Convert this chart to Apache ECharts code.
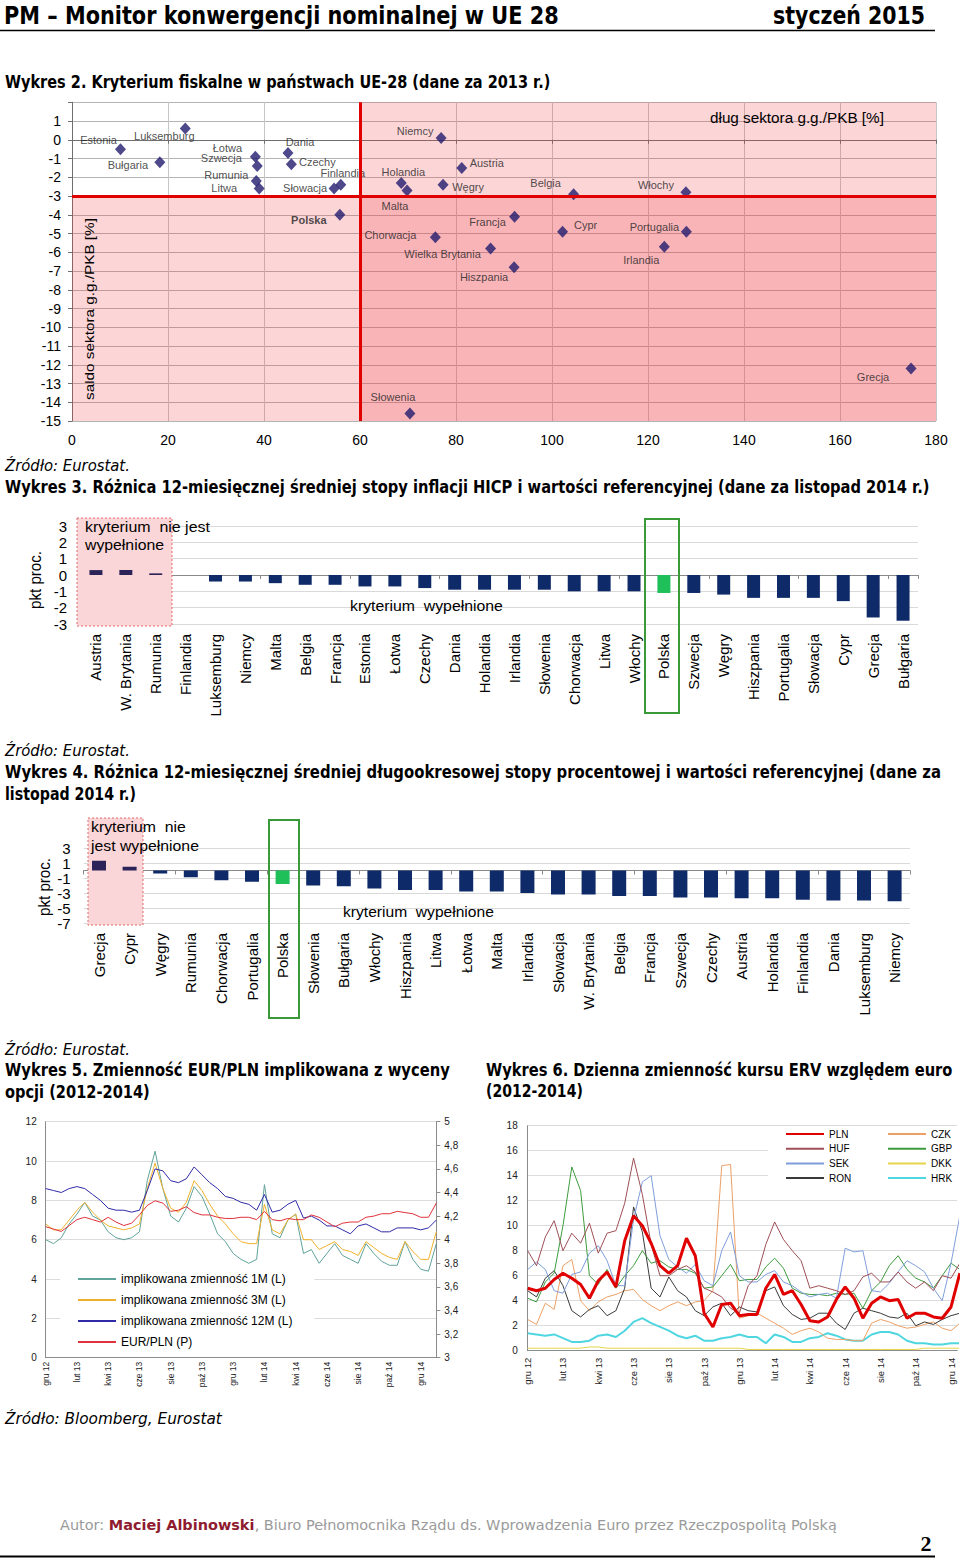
<!DOCTYPE html>
<html><head><meta charset="utf-8">
<script src="https://cdn.jsdelivr.net/npm/echarts@6/dist/echarts.min.js"></script>
<style>html,body{margin:0;padding:0;background:#fff}#c{width:960px;height:1561px}</style>
</head><body><div id="c"></div>
<script>
// ---------------- DATA ----------------
const fiscalCountries = ['Estonia','Luksemburg','Bułgaria','Łotwa','Szwecja','Rumunia','Litwa','Dania','Czechy','Finlandia','Słowacja','Polska','Niemcy','Austria','Holandia','Malta','Węgry','Belgia','Francja','Cypr','Chorwacja','Wielka Brytania','Hiszpania','Włochy','Portugalia','Irlandia','Słowenia','Grecja'];
const fiscalDebt = [10.1,23.6,18.3,38.2,38.6,38.4,39.0,45.0,45.7,56.0,54.6,55.8,76.9,81.2,68.6,69.8,77.3,104.5,92.2,102.2,75.7,87.2,92.1,127.9,128.0,123.4,70.4,174.8];
const fiscalBalance = [-0.5,0.6,-1.2,-0.9,-1.4,-2.2,-2.6,-0.7,-1.3,-2.4,-2.6,-4.0,0.1,-1.5,-2.3,-2.7,-2.4,-2.9,-4.1,-4.9,-5.2,-5.8,-6.8,-2.8,-4.9,-5.7,-14.6,-12.2];

const hicpCountries = ['Austria','W. Brytania','Rumunia','Finlandia','Luksemburg','Niemcy','Malta','Belgia','Francja','Estonia','Łotwa','Czechy','Dania','Holandia','Irlandia','Słowenia','Chorwacja','Litwa','Włochy','Polska','Szwecja','Węgry','Hiszpania','Portugalia','Słowacja','Cypr','Grecja','Bułgaria'];
const hicpValues = [0.3,0.3,0.1,0.0,-0.4,-0.4,-0.5,-0.6,-0.6,-0.7,-0.7,-0.8,-0.9,-0.9,-0.9,-0.9,-1.0,-1.0,-1.0,-1.1,-1.1,-1.2,-1.4,-1.4,-1.4,-1.6,-2.6,-2.8];

const rateCountries = ['Grecja','Cypr','Węgry','Rumunia','Chorwacja','Portugalia','Polska','Słowenia','Bułgaria','Włochy','Hiszpania','Litwa','Łotwa','Malta','Irlandia','Słowacja','W. Brytania','Belgia','Francja','Szwecja','Czechy','Austria','Holandia','Finlandia','Dania','Luksemburg','Niemcy'];
const rateValues = [1.3,0.5,-0.4,-0.9,-1.3,-1.5,-1.8,-2.0,-2.1,-2.4,-2.6,-2.6,-2.8,-2.8,-3.0,-3.2,-3.2,-3.4,-3.4,-3.6,-3.6,-3.7,-3.7,-3.9,-4.0,-4.0,-4.1];

// time axis: one point per half month, starting 1 Dec 2012
const monthTicks = ['gru 12','lut 13','kwi 13','cze 13','sie 13','paź 13','gru 13','lut 14','kwi 14','cze 14','sie 14','paź 14','gru 14'];

const vol1M = [6.0,5.8,6.1,6.8,7.3,7.9,7.2,7.0,6.4,6.1,6.0,6.1,6.4,9.0,10.5,8.6,7.2,6.9,7.6,8.7,8.2,7.3,6.3,5.9,5.3,5.0,4.8,5.0,8.8,6.3,6.1,7.0,7.3,5.3,5.5,4.8,5.3,5.8,5.2,5.0,4.8,5.8,5.3,4.9,4.7,4.7,5.9,5.0,4.5,4.4,5.8];
const vol3M = [6.8,6.5,6.5,7.0,7.5,7.9,7.4,7.0,6.7,6.6,6.5,6.6,6.8,8.6,9.9,8.6,7.6,7.4,7.9,9.0,8.5,7.8,7.2,6.8,6.3,5.9,5.8,5.8,7.8,6.5,6.3,7.0,7.3,6.0,6.0,5.5,5.7,5.9,5.5,5.4,5.2,5.9,5.6,5.3,5.1,5.0,5.9,5.4,5.0,5.0,6.4];
const vol12M = [8.6,8.5,8.4,8.6,8.7,8.6,8.3,8.0,7.6,7.5,7.5,7.4,7.5,8.5,9.6,9.5,9.0,8.9,9.1,9.7,9.3,8.9,8.6,8.2,8.1,7.9,7.8,7.5,8.3,7.4,7.5,7.8,8.0,7.1,7.2,7.0,6.7,6.7,6.5,6.3,6.7,6.8,6.6,6.4,6.4,6.6,6.6,6.6,6.5,6.6,7.0];
const eurPln = [4.11,4.09,4.07,4.12,4.17,4.19,4.17,4.15,4.19,4.15,4.12,4.14,4.21,4.29,4.33,4.31,4.24,4.25,4.28,4.23,4.21,4.21,4.19,4.18,4.18,4.19,4.19,4.17,4.24,4.17,4.16,4.18,4.17,4.17,4.21,4.19,4.15,4.11,4.14,4.15,4.15,4.19,4.20,4.22,4.22,4.24,4.23,4.22,4.19,4.19,4.31];

const ervPLN = [5.0,4.8,5.0,5.7,6.2,5.8,5.3,4.2,5.6,6.3,5.1,8.8,10.8,10.0,8.6,6.8,6.2,6.8,9.0,7.6,3.0,1.9,3.7,3.8,2.8,2.9,2.9,5.0,6.1,4.5,4.8,3.7,2.4,2.3,2.7,4.1,5.1,4.2,2.6,3.8,4.3,4.0,4.1,2.6,3.0,3.0,2.7,2.6,3.5,6.2];
const ervHUF = [8.0,6.8,9.1,10.4,8.0,9.4,8.6,10.2,7.8,9.4,9.6,11.8,15.4,12.5,8.5,6.0,6.0,6.5,6.8,6.3,5.0,4.7,4.3,3.4,3.0,5.2,6.0,8.5,10.3,8.9,8.0,7.2,5.0,5.2,5.0,4.8,4.5,4.8,5.9,6.2,5.5,5.5,6.3,5.5,5.0,5.5,4.8,6.0,5.8,7.0];
const ervSEK = [6.5,7.1,6.5,4.8,4.6,6.1,6.3,7.8,8.4,7.2,5.2,5.2,10.5,13.5,14.0,9.2,7.3,6.7,6.2,6.9,5.6,5.2,8.0,9.5,6.0,5.5,5.5,6.1,6.4,5.5,5.2,4.7,4.3,4.5,4.6,4.2,8.2,7.9,8.0,4.8,4.7,5.4,6.3,7.2,6.8,6.3,5.0,4.0,7.0,10.8];
const ervRON = [4.8,4.3,5.8,6.4,5.2,3.2,2.7,3.3,3.6,2.8,3.2,5.0,11.5,9.5,5.0,4.3,5.9,4.8,4.3,3.2,2.8,3.5,3.8,2.8,3.5,3.2,3.1,4.8,5.1,3.6,2.9,2.5,2.6,3.0,3.0,2.2,1.7,3.0,3.4,3.2,3.0,2.7,2.6,3.0,2.0,2.3,2.1,2.5,2.8,3.0];
const ervCZK = [2.5,2.1,3.8,3.3,6.8,7.3,4.0,3.2,3.9,4.3,4.5,4.8,4.9,4.1,3.6,3.2,3.6,3.9,3.6,3.9,4.0,4.8,14.8,14.9,2.6,2.8,3.0,2.6,2.2,1.8,1.3,1.6,1.8,1.5,1.0,0.9,0.9,0.8,0.8,2.2,2.5,2.3,2.0,1.8,1.9,2.1,2.3,1.8,1.6,2.2];
const ervGBP = [4.2,3.9,5.5,6.2,10.0,14.7,12.8,6.0,5.3,6.5,5.0,6.0,6.8,8.0,7.0,7.2,6.7,6.5,6.5,6.2,5.0,5.1,6.0,6.9,5.6,5.7,5.7,6.7,7.4,6.6,5.0,4.6,4.5,4.5,4.4,4.6,4.5,4.6,3.4,4.8,5.5,6.8,7.6,6.5,5.8,5.5,5.0,6.0,7.0,6.5];
const ervDKK = [0.2,0.2,0.2,0.2,0.2,0.2,0.2,0.3,0.3,0.2,0.2,0.2,0.2,0.2,0.2,0.2,0.2,0.2,0.2,0.2,0.2,0.2,0.2,0.2,0.2,0.1,0.1,0.1,0.1,0.1,0.1,0.1,0.1,0.1,0.1,0.1,0.1,0.1,0.1,0.1,0.1,0.1,0.1,0.1,0.1,0.2,0.2,0.2,0.2,0.2];
const ervHRK = [1.4,1.3,1.2,1.3,1.0,0.7,0.7,0.8,1.2,1.3,1.1,1.6,2.3,2.6,2.2,1.9,1.6,1.2,1.0,1.2,0.8,0.8,1.0,1.1,1.3,1.1,1.1,0.6,1.3,1.1,0.7,0.7,1.0,1.1,1.4,1.2,0.9,0.8,0.8,1.3,1.5,1.5,1.3,0.8,0.6,0.6,0.5,0.5,0.6,0.6];

// ---------------- LAYOUT / STYLE ----------------
const labelOffsets = {
 'Estonia':[-22,-9],'Luksemburg':[-21,7],'Bułgaria':[-32,3],'Łotwa':[-28,-9],'Szwecja':[-36,-8],'Rumunia':[-30,-6],
 'Litwa':[-35,-1],'Dania':[12,-11],'Czechy':[26,-2],'Finlandia':[2,-12],'Słowacja':[-29,-1],'Polska':[-31,5],
 'Niemcy':[-26,-7],'Austria':[25,-5],'Holandia':[2,-11],'Malta':[-12,16],'Węgry':[25,2],'Belgia':[-28,-11],
 'Francja':[-27,5],'Cypr':[23,-7],'Chorwacja':[-45,-2],'Wielka Brytania':[-48,5],'Hiszpania':[-30,10],
 'Włochy':[-30,-7],'Portugalia':[-32,-5],'Irlandia':[-23,13],'Słowenia':[-17,-17],'Grecja':[-38,8]
};
const AR = 'Liberation Sans';
const mctx = document.createElement('canvas').getContext('2d');
function measure(t, f){ mctx.font = f; return mctx.measureText(t).width; }
function T(text, x, y, font, o){
  o = o || {};
  const sx = o.w ? o.w / measure(text, font) : 1;
  const al = o.align || 'left';
  return {type:'text', x:x, y:y, rotation:o.rot||0, scaleX:sx, z:o.z||10, silent:true,
    style:{text:text, font:font, fill:o.fill||'#000', textAlign:al, align:al, textVerticalAlign:'middle', verticalAlign:'middle'}};
}
function R(x,y,w,h,style,z){ return {type:'rect', shape:{x:x,y:y,width:w,height:h}, style:style, z:z, silent:true}; }
function L(x1,y1,x2,y2,style,z){ return {type:'line', shape:{x1:x1,y1:y1,x2:x2,y2:y2}, style:style, z:z||10, silent:true}; }

const TB = 'bold 17px "DejaVu Sans"';
const TI = 'italic 15px "DejaVu Sans"';
const TN = '15px "' + AR + '"';
const HF = 'bold 24px "DejaVu Sans"';
const foot = ['Autor: ','Maciej Albinowski',', Biuro Pełnomocnika Rządu ds. Wprowadzenia Euro przez Rzeczpospolitą Polską'];
const footW = measure(foot[0],'14px "DejaVu Sans"')+measure(foot[1],'bold 14px "DejaVu Sans"')+measure(foot[2],'14px "DejaVu Sans"');

const graphics = [
  T('PM – Monitor konwergencji nominalnej w UE 28', 4, 15, HF, {w:555}),
  T('styczeń 2015', 925, 15, HF, {w:152, align:'right'}),
  L(0,30.5,935,30.5,{stroke:'#000',lineWidth:1.5}),
  T('Wykres 2. Kryterium fiskalne w państwach UE-28 (dane za 2013 r.)', 5, 82, TB, {w:546}),
  T('dług sektora g.g./PKB [%]', 710, 118, '14px "'+AR+'"', {w:174}),
  T('saldo sektora g.g./PKB [%]', 89, 309, '13px "'+AR+'"', {w:182, rot:Math.PI/2, align:'center'}),
  T('Źródło: Eurostat.', 5, 466, TI, {w:125}),
  T('Wykres 3. Różnica 12-miesięcznej średniej stopy inflacji HICP i wartości referencyjnej (dane za listopad 2014 r.)', 5, 487, TB, {w:925}),
  R(77,518,95,108,{fill:'#fbd6d8',stroke:'#e06a6a',lineWidth:1,lineDash:[2,2]},1),
  T('kryterium  nie jest', 85, 527, TN, {w:125}),
  T('wypełnione', 85, 545, TN, {w:79}),
  T('kryterium  wypełnione', 350, 606, TN, {w:153}),
  R(645,519,34,194,{fill:'none',stroke:'#3a9a3a',lineWidth:2},6),
  T('pkt proc.', 35, 580, '16px "'+AR+'"', {w:58, rot:Math.PI/2, align:'center'}),
  T('Źródło: Eurostat.', 5, 751, TI, {w:125}),
  T('Wykres 4. Różnica 12-miesięcznej średniej długookresowej stopy procentowej i wartości referencyjnej (dane za', 5, 772, TB, {w:936}),
  T('listopad 2014 r.)', 5, 794, TB, {w:131}),
  R(88,818,55,107,{fill:'#fbd6d8',stroke:'#e06a6a',lineWidth:1,lineDash:[2,2]},1),
  T('kryterium  nie', 91, 827, TN, {w:95}),
  T('jest wypełnione', 91, 846, TN, {w:108}),
  T('kryterium  wypełnione', 343, 912, TN, {w:151}),
  R(269,820,30,198,{fill:'none',stroke:'#3a9a3a',lineWidth:2},6),
  T('pkt proc.', 44, 887, '16px "'+AR+'"', {w:58, rot:Math.PI/2, align:'center'}),
  T('Źródło: Eurostat.', 5, 1050, TI, {w:125}),
  T('Wykres 5. Zmienność EUR/PLN implikowana z wyceny', 5, 1070, TB, {w:445}),
  T('opcji (2012-2014)', 5, 1092, TB, {w:145}),
  T('Wykres 6. Dzienna zmienność kursu ERV względem euro', 486, 1070, TB, {w:467}),
  T('(2012-2014)', 486, 1092, TB, {w:97}),
  R(768,1127,189,59,{fill:'#fff'},3),
  T('Źródło: Bloomberg, Eurostat', 5, 1419, TI, {w:217}),
  {type:'text', x:60, y:1525, scaleX:778/footW, z:10, silent:true,
   style:{text:'{a|'+foot[0]+'}{b|'+foot[1]+'}{a|'+foot[2]+'}', textVerticalAlign:'middle', verticalAlign:'middle',
     rich:{a:{fontSize:14, fontFamily:'DejaVu Sans', fill:'#9a9a9a'}, b:{fontSize:14, fontFamily:'DejaVu Sans', fontWeight:'bold', fill:'#8e1b2f'}}}},
  T('2', 926, 1543, 'bold 22px "Liberation Serif"', {align:'center'}),
  L(0,1556.5,935,1556.5,{stroke:'#000',lineWidth:2})
];

function barColor(p){ if (p.name === 'Polska') return '#1fbf5a'; return p.value > 0 ? '#2c2358' : '#0e2a68'; }
const monthFmt = v => (Math.abs(v % 4) < 1e-6 ? (monthTicks[Math.round(v/4)] || '') : '');
const idx = arr => arr.map((v,i) => [i, v]);
const axLbl = (size, extra) => Object.assign({fontSize:size, color:'#000', fontFamily:AR}, extra||{});
const noSymbol = {opacity:0, color:'transparent', borderWidth:0};

const option = {
  animation:false,
  textStyle:{fontFamily:AR},
  grid:[
    {left:72, top:102.25, width:864, height:318.75, containLabel:false, outerBoundsMode:'none'},
    {left:81, top:526, width:837, height:98, containLabel:false, outerBoundsMode:'none'},
    {left:83.7, top:848, width:826.2, height:75, containLabel:false, outerBoundsMode:'none'},
    {left:45.7, top:1121.7, width:390.6, height:236, containLabel:false, outerBoundsMode:'none'},
    {left:527.7, top:1125.7, width:429.5, height:225, containLabel:false, outerBoundsMode:'none'}
  ],
  xAxis:[
    {gridIndex:0, type:'value', min:0, max:180, interval:20, position:'bottom',
     axisLine:{show:false,onZero:false}, axisTick:{show:false}, axisLabel:axLbl(14,{margin:12}),
     splitLine:{show:true, lineStyle:{color:'#c6c6c6'}}},
    {gridIndex:0, type:'value', min:0, max:180, interval:20, position:'bottom',
     axisLine:{show:true,onZero:true,lineStyle:{color:'#6f6f6f'}}, axisTick:{show:true,length:4,lineStyle:{color:'#6f6f6f'}},
     axisLabel:{show:false}, splitLine:{show:false}},
    {gridIndex:1, type:'category', data:hicpCountries, position:'bottom',
     axisLine:{show:false,onZero:false}, axisTick:{show:false},
     axisLabel:axLbl(15,{rotate:90, interval:0, margin:10})},
    {gridIndex:1, type:'category', data:hicpCountries, position:'bottom',
     axisLine:{show:true,onZero:true,lineStyle:{color:'#8a8a8a'}}, axisTick:{show:true,length:4,lineStyle:{color:'#8a8a8a'}},
     axisLabel:{show:false}},
    {gridIndex:2, type:'category', data:rateCountries, position:'bottom',
     axisLine:{show:false,onZero:false}, axisTick:{show:false},
     axisLabel:axLbl(15,{rotate:90, interval:0, margin:10})},
    {gridIndex:2, type:'category', data:rateCountries, position:'bottom',
     axisLine:{show:true,onZero:true,lineStyle:{color:'#8a8a8a'}}, axisTick:{show:true,length:4,lineStyle:{color:'#8a8a8a'}},
     axisLabel:{show:false}},
    {gridIndex:3, type:'value', min:0, max:50, interval:4,
     axisLine:{show:true,onZero:false,lineStyle:{color:'#8c8c8c'}}, axisTick:{show:false},
     axisLabel:axLbl(8.5,{rotate:90, margin:4, formatter:monthFmt, color:'#222', showMaxLabel:false}), splitLine:{show:false}},
    {gridIndex:4, type:'value', min:0, max:48.7, interval:4,
     axisLine:{show:true,onZero:false,lineStyle:{color:'#8c8c8c'}}, axisTick:{show:false},
     axisLabel:axLbl(9.5,{rotate:90, margin:7, formatter:monthFmt, color:'#222', showMaxLabel:false}), splitLine:{show:false}}
  ],
  yAxis:[
    {gridIndex:0, type:'value', min:-15, max:2, interval:1,
     axisLine:{show:true,lineStyle:{color:'#6f6f6f'}}, axisTick:{show:true,length:4,lineStyle:{color:'#6f6f6f'}},
     axisLabel:axLbl(14,{margin:11, formatter:v => (v > 1.5 ? '' : String(v))}),
     splitLine:{show:true, lineStyle:{color:'#b4b4b4'}}},
    {gridIndex:1, type:'value', min:-3, max:3, interval:1,
     axisLine:{show:false}, axisTick:{show:false}, axisLabel:axLbl(15,{margin:14}),
     splitLine:{show:true, lineStyle:{color:'#d9d9d9'}}},
    {gridIndex:2, type:'value', min:-7, max:3, interval:2,
     axisLine:{show:false}, axisTick:{show:false}, axisLabel:axLbl(15,{margin:13}),
     splitLine:{show:true, lineStyle:{color:'#d9d9d9'}}},
    {gridIndex:3, type:'value', min:0, max:12, interval:2, position:'left',
     axisLine:{show:true,lineStyle:{color:'#8c8c8c'}}, axisTick:{show:false},
     axisLabel:axLbl(10,{margin:9, color:'#222'}), splitLine:{show:true, lineStyle:{color:'#dcdcdc'}}},
    {gridIndex:3, type:'value', min:3, max:5, interval:0.2, position:'right',
     axisLine:{show:true,lineStyle:{color:'#8c8c8c'}}, axisTick:{show:true,length:4,lineStyle:{color:'#8c8c8c'}},
     axisLabel:axLbl(10,{margin:8, color:'#222', formatter:v => String(Math.round(v*10)/10).replace('.', ',')}),
     splitLine:{show:false}},
    {gridIndex:4, type:'value', min:0, max:18, interval:2,
     axisLine:{show:true,lineStyle:{color:'#8c8c8c'}}, axisTick:{show:false},
     axisLabel:axLbl(10,{margin:10, color:'#222'}), splitLine:{show:true, lineStyle:{color:'#dcdcdc'}}}
  ],
  legend:[
    {data:['implikowana zmienność 1M (L)','implikowana zmienność 3M (L)','implikowana zmienność 12M (L)','EUR/PLN (P)'],
     orient:'vertical', left:60, top:1268, itemWidth:38, itemHeight:14, itemGap:7, selectedMode:false,
     backgroundColor:'#fff', padding:[4,22,4,17], itemStyle:noSymbol,
     textStyle:{fontSize:12, color:'#000', fontFamily:AR, lineHeight:14}},
    {data:['PLN','HUF','SEK','RON'], orient:'vertical', left:785, top:1128, itemWidth:38, itemHeight:10, itemGap:2.7,
     selectedMode:false, padding:0, itemStyle:noSymbol, textStyle:{fontSize:10, color:'#000', fontFamily:AR, lineHeight:12}},
    {data:['CZK','GBP','DKK','HRK'], orient:'vertical', left:887, top:1128, itemWidth:38, itemHeight:10, itemGap:2.7,
     selectedMode:false, padding:0, itemStyle:noSymbol, textStyle:{fontSize:10, color:'#000', fontFamily:AR, lineHeight:12}}
  ],
  graphic:{elements:graphics},
  series:[
    {type:'scatter', xAxisIndex:0, yAxisIndex:0, symbol:'diamond', symbolSize:[11,12], z:4,
     itemStyle:{color:'#221c6e'},
     label:{show:true, position:'inside', formatter:'{b}', fontSize:11, color:'#222', fontFamily:AR},
     data:fiscalCountries.map((c,i) => ({name:c, value:[fiscalDebt[i], fiscalBalance[i]],
        label:{offset:labelOffsets[c], fontWeight:(c === 'Polska' ? 'bold' : 'normal')}})),
     markArea:{silent:true, data:[
       [{xAxis:60, yAxis:-3, itemStyle:{color:'rgba(240,60,70,0.215)'}}, {xAxis:180, yAxis:2}],
       [{xAxis:0, yAxis:-15, itemStyle:{color:'rgba(240,60,70,0.215)'}}, {xAxis:60, yAxis:-3}],
       [{xAxis:60, yAxis:-15, itemStyle:{color:'rgba(240,60,70,0.385)'}}, {xAxis:180, yAxis:-3}]
     ]},
     markLine:{silent:true, symbol:'none', label:{show:false}, lineStyle:{color:'#e00000', width:3, type:'solid'},
       data:[{xAxis:60},{yAxis:-3}]}
    },
    {type:'bar', xAxisIndex:2, yAxisIndex:1, barWidth:13, data:hicpValues, itemStyle:{color:barColor}, z:2},
    {type:'bar', xAxisIndex:4, yAxisIndex:2, barWidth:14, data:rateValues, itemStyle:{color:barColor}, z:2},
    {type:'line', name:'implikowana zmienność 1M (L)', xAxisIndex:6, yAxisIndex:3, data:idx(vol1M), symbol:'none', lineStyle:{width:1,color:'#5fa39a'}, itemStyle:{color:'#5fa39a'}},
    {type:'line', name:'implikowana zmienność 3M (L)', xAxisIndex:6, yAxisIndex:3, data:idx(vol3M), symbol:'none', lineStyle:{width:1,color:'#f0b02c'}, itemStyle:{color:'#f0b02c'}},
    {type:'line', name:'implikowana zmienność 12M (L)', xAxisIndex:6, yAxisIndex:3, data:idx(vol12M), symbol:'none', lineStyle:{width:1,color:'#2f2aa8'}, itemStyle:{color:'#2f2aa8'}},
    {type:'line', name:'EUR/PLN (P)', xAxisIndex:6, yAxisIndex:4, data:idx(eurPln), symbol:'none', lineStyle:{width:1,color:'#e0323a'}, itemStyle:{color:'#e0323a'}},
    {type:'line', name:'DKK', xAxisIndex:7, yAxisIndex:5, data:idx(ervDKK), symbol:'none', lineStyle:{width:1,color:'#e6d44a'}, itemStyle:{color:'#e6d44a'}},
    {type:'line', name:'HRK', xAxisIndex:7, yAxisIndex:5, data:idx(ervHRK), symbol:'none', lineStyle:{width:2,color:'#4fd6e0'}, itemStyle:{color:'#4fd6e0'}},
    {type:'line', name:'CZK', xAxisIndex:7, yAxisIndex:5, data:idx(ervCZK), symbol:'none', lineStyle:{width:1,color:'#eda066'}, itemStyle:{color:'#eda066'}},
    {type:'line', name:'RON', xAxisIndex:7, yAxisIndex:5, data:idx(ervRON), symbol:'none', lineStyle:{width:1,color:'#3a3a3a'}, itemStyle:{color:'#3a3a3a'}},
    {type:'line', name:'GBP', xAxisIndex:7, yAxisIndex:5, data:idx(ervGBP), symbol:'none', lineStyle:{width:1,color:'#3d9b3d'}, itemStyle:{color:'#3d9b3d'}},
    {type:'line', name:'SEK', xAxisIndex:7, yAxisIndex:5, data:idx(ervSEK), symbol:'none', lineStyle:{width:1,color:'#7e9edb'}, itemStyle:{color:'#7e9edb'}},
    {type:'line', name:'HUF', xAxisIndex:7, yAxisIndex:5, data:idx(ervHUF), symbol:'none', lineStyle:{width:1,color:'#9e4f57'}, itemStyle:{color:'#9e4f57'}},
    {type:'line', name:'PLN', xAxisIndex:7, yAxisIndex:5, data:idx(ervPLN), symbol:'none', lineStyle:{width:3,color:'#e00000'}, itemStyle:{color:'#e00000'}}
  ]
};
const chart = echarts.init(document.getElementById('c'), null, {renderer:'svg', width:960, height:1561});
chart.setOption(option);
</script>
</body></html>
